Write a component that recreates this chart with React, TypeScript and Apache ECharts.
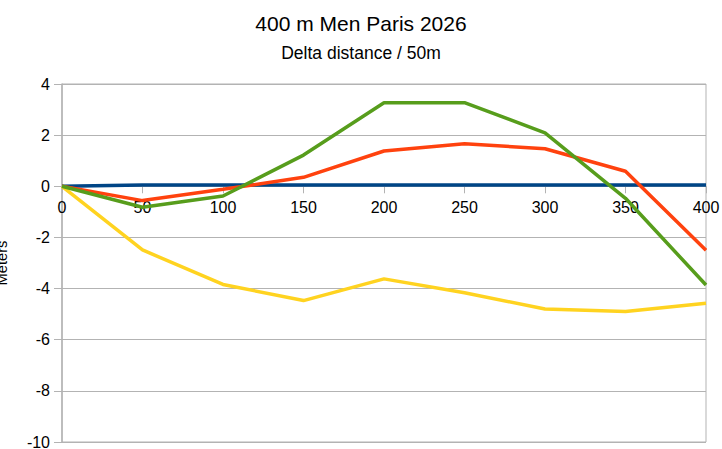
import React, { useEffect, useRef } from 'react';
import * as echarts from 'echarts';

// distances along the race (m)
const distances = [0, 50, 100, 150, 200, 250, 300, 350, 400];

// delta distance per 50m segment, meters
const seriesNames = ['Series 1', 'Series 2', 'Series 3', 'Series 4'];
const blueValues = [0, 0.05, 0.05, 0.05, 0.05, 0.05, 0.05, 0.05, 0.05];
const redValues = [0, -0.56, -0.12, 0.35, 1.38, 1.66, 1.47, 0.59, -2.5];
const yellowValues = [0, -2.49, -3.84, -4.47, -3.62, -4.16, -4.8, -4.9, -4.57];
const greenValues = [0, -0.82, -0.38, 1.22, 3.27, 3.27, 2.09, -0.47, -3.86];

const seriesColors = ['#004586', '#ff420e', '#ffd320', '#579d1c'];

const yMin = -10;
const yMax = 4;
const yStep = 2;

const titleText = '400 m Men Paris 2026';
const subtitleText = 'Delta distance / 50m';
const yAxisName = 'Meters';

const FONT = "'Liberation Sans', Arial, sans-serif";

const W = 722;
const H = 449;
const GRID = { left: 62, right: 16, top: 84, bottom: 7 };

export default function App() {
  const chartRef = useRef<HTMLDivElement>(null);

  useEffect(() => {
    if (!chartRef.current) return;
    const chart = echarts.init(chartRef.current, null, { renderer: 'svg' });

    const allValues = [blueValues, redValues, yellowValues, greenValues];

    // x axis crosses the y axis at 0: shift it up from the bottom of the plot
    const plotH = H - GRID.top - GRID.bottom;
    const zeroOffset = -plotH * (0 - yMin) / (yMax - yMin);

    const option = {
      animation: false,
      backgroundColor: '#ffffff',
      title: [
        {
          text: titleText,
          left: 'center',
          top: 13,
          padding: 0,
          textStyle: { fontFamily: FONT, fontSize: 21, fontWeight: 'normal', color: '#000' }
        },
        {
          text: subtitleText,
          left: 'center',
          top: 44,
          padding: 0,
          textStyle: { fontFamily: FONT, fontSize: 17.5, fontWeight: 'normal', color: '#000' }
        }
      ],
      grid: {
        ...GRID,
        containLabel: false,
        outerBoundsMode: 'none',
        show: true,
        borderColor: '#b3b3b3',
        borderWidth: 1
      },
      xAxis: {
        type: 'value',
        min: 0,
        max: 400,
        interval: 50,
        position: 'bottom',
        offset: zeroOffset,
        axisLine: { onZero: false, lineStyle: { color: '#b3b3b3', width: 1 } },
        axisTick: { show: true, length: 7, inside: false, lineStyle: { color: '#b3b3b3' } },
        axisLabel: { fontFamily: FONT, fontSize: 16, color: '#000', margin: 13, showMinLabel: true, showMaxLabel: true },
        splitLine: { show: false },
        minorSplitLine: { show: false }
      },
      yAxis: {
        type: 'value',
        min: yMin,
        max: yMax,
        interval: yStep,
        name: yAxisName,
        nameLocation: 'middle',
        nameRotate: 90,
        nameGap: 53,
        nameTextStyle: { fontFamily: FONT, fontSize: 14.7, color: '#000' },
        axisLine: { show: true, onZero: false, lineStyle: { color: '#b3b3b3', width: 1.5 } },
        axisTick: { show: true, length: 8, lineStyle: { color: '#b3b3b3' } },
        axisLabel: { fontFamily: FONT, fontSize: 16, color: '#000', margin: 12 },
        splitLine: { show: true, lineStyle: { color: '#b3b3b3', width: 1 } }
      },
      series: allValues.map((vals, i) => ({
        name: seriesNames[i],
        type: 'line',
        data: distances.map((d, j) => [d, vals[j]]),
        showSymbol: false,
        symbol: 'none',
        lineStyle: { color: seriesColors[i], width: 3.5 },
        itemStyle: { color: seriesColors[i] }
      }))
    };

    chart.setOption(option);

    return () => {
      chart.dispose();
    };
  }, []);

  return (
    <div
      ref={chartRef}
      style={{ position: 'fixed', left: 0, top: 0, width: W, height: H }}
    />
  );
}
